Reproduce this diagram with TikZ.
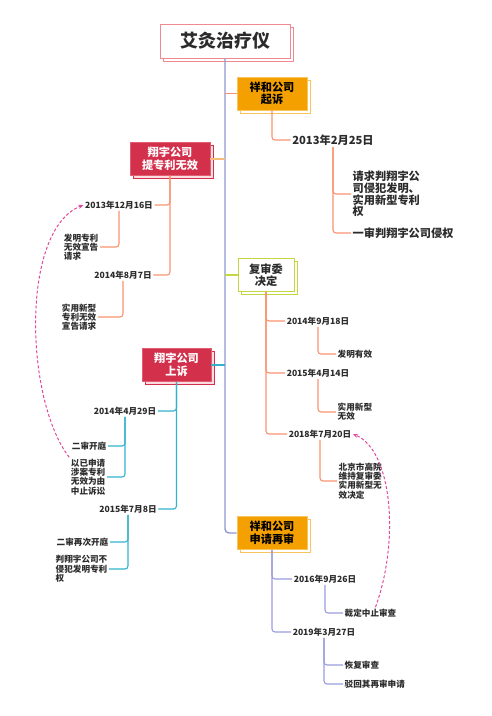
\documentclass[tikz,border=0pt]{standalone}
\usepackage{fontspec}
\setmainfont{Noto Sans CJK SC}
\usetikzlibrary{arrows.meta,shadows}
\definecolor{spinec}{HTML}{8F97D2}
\definecolor{titlered}{HTML}{F08A90}
\definecolor{boxorange}{HTML}{F4A000}
\definecolor{edgeorange}{HTML}{F8C45E}
\definecolor{boxred}{HTML}{D3304C}
\definecolor{edgered}{HTML}{E25E72}
\definecolor{shadepink}{HTML}{F9DDE1}
\definecolor{limec}{HTML}{C4D640}
\definecolor{salmonc}{HTML}{F9936F}
\definecolor{peachc}{HTML}{F7BB7A}
\definecolor{tealc}{HTML}{32B2CC}
\definecolor{purplec}{HTML}{9B9CDC}
\definecolor{magentac}{HTML}{E0489E}
\definecolor{textgray}{HTML}{2B2B2B}
\tikzset{
  headbox/.style={rectangle, align=center, font=\fontsize{11.2}{12.6}\selectfont\bfseries, inner xsep=4pt, minimum height=33pt, line width=0.8pt},
  titlebox/.style={headbox, draw=titlered, fill=white, text=textgray, font=\fontsize{18}{20}\selectfont\bfseries, minimum width=130pt, minimum height=34pt, copy shadow={shadow xshift=3pt, shadow yshift=-3pt, draw=titlered, fill=white}},
  orangebox/.style={headbox, fill=boxorange, draw=edgeorange, text=black, copy shadow={shadow xshift=3pt, shadow yshift=-3pt, draw=edgeorange, fill=white}},
  redbox/.style={headbox, fill=boxred, draw=edgered, text=white, copy shadow={shadow xshift=3pt, shadow yshift=-3pt, draw=boxred, fill=shadepink}},
  greenbox/.style={headbox, fill=white, draw=limec, line width=1pt, text=textgray, copy shadow={shadow xshift=3pt, shadow yshift=-3pt, draw=limec, fill=white}},
  datetext/.style={font=\fontsize{8.6}{9.3}\selectfont\bfseries, text=textgray, inner sep=1.5pt},
  bigdate/.style={datetext, font=\fontsize{11.2}{12}\selectfont\bfseries},
  leaftext/.style={font=\fontsize{8.6}{9.3}\selectfont\bfseries, text=textgray, align=left, inner sep=1.5pt},
  bigleaf/.style={leaftext, font=\fontsize{11.2}{11.6}\selectfont\bfseries},
  spine/.style={draw=spinec, line width=1.4pt, rounded corners=4pt},
  link/.style={line width=1.1pt, rounded corners=3pt},
  jumparrow/.style={draw=magentac, line width=1pt, dash pattern=on 3pt off 2pt, -{Stealth[length=5pt,width=4pt]}}
}
\begin{document}
\begin{tikzpicture}[x=1pt,y=-1pt]
  \useasboundingbox (0,0) rectangle (491,716);
  \node[titlebox] (title) at (225,41) {艾灸治疗仪};
  \node[orangebox, minimum width=70pt] (sue) at (272,93.5) {祥和公司\\起诉};
  \node[redbox, minimum width=80pt] (invalid) at (170,159) {翔宇公司\\提专利无效};
  \node[greenbox, minimum width=56pt] (review) at (266,275) {复审委\\决定};
  \node[redbox, minimum width=69pt] (appeal) at (176.5,365) {翔宇公司\\上诉};
  \node[orangebox, minimum width=70pt] (retrial) at (272,533) {祥和公司\\申请再审};
  % spine and first level
  \draw[spine] (title.south) |- (retrial.west);
  \draw[link, salmonc] (title.south |- sue.west) -- (sue.west);
  \draw[link, peachc] (invalid.east) -- (invalid.east -| title.south);
  \draw[link, limec] (title.south |- review.west) -- (review.west);
  \draw[link, tealc] (appeal.east) -- (appeal.east -| title.south);
  % 祥和公司起诉
  \node[bigdate] (sueA) at (333,140) {2013年2月25日};
  \node[bigleaf, anchor=west] (sueA1) at (351,194) {请求判翔宇公\\司侵犯发明、\\实用新型专利\\权};
  \node[bigleaf, anchor=west] (sueA2) at (351,233) {一审判翔宇公司侵权};
  \draw[link, salmonc] (sue.south) |- (sueA.west);
  \draw[link, salmonc] (sueA.south) |- (sueA1.west);
  \draw[link, salmonc] (sueA.south) |- (sueA2.west);
  % 翔宇公司提专利无效
  \node[datetext] (invA) at (119,205) {2013年12月16日};
  \node[leaftext, anchor=east] (invA1) at (100,247) {发明专利\\无效宣告\\请求};
  \node[datetext] (invB) at (123,275) {2014年8月7日};
  \node[leaftext, anchor=east] (invB1) at (98,317) {实用新型\\专利无效\\宣告请求};
  \draw[link, salmonc] (invalid.south) |- (invA.east);
  \draw[link, salmonc] (invalid.south) |- (invB.east);
  \draw[link, salmonc] (invA.south) |- (invA1.east);
  \draw[link, salmonc] (invB.south) |- (invB1.east);
  % 复审委决定
  \node[datetext] (revA) at (318,321) {2014年9月18日};
  \node[leaftext, anchor=west] (revA1) at (336,354) {发明有效};
  \node[datetext] (revB) at (318,373) {2015年4月14日};
  \node[leaftext, anchor=west] (revB1) at (336,412) {实用新型\\无效};
  \node[datetext] (revC) at (320,434) {2018年7月20日};
  \node[leaftext, anchor=west] (revC1) at (337,481) {北京市高院\\维持复审委\\实用新型无\\效决定};
  \draw[link, salmonc] (review.south) |- (revA.west);
  \draw[link, salmonc] (review.south) |- (revB.west);
  \draw[link, salmonc] (review.south) |- (revC.west);
  \draw[link, salmonc] (revA.south) |- (revA1.west);
  \draw[link, salmonc] (revB.south) |- (revB1.west);
  \draw[link, salmonc] (revC.south) |- (revC1.west);
  % 翔宇公司上诉
  \node[datetext] (appA) at (125,411) {2014年4月29日};
  \node[leaftext, anchor=east] (appA1) at (108,446) {二审开庭};
  \node[leaftext, anchor=east] (appA2) at (107,477) {以已申请\\涉案专利\\无效为由\\中止诉讼};
  \node[datetext] (appB) at (128,509) {2015年7月8日};
  \node[leaftext, anchor=east] (appB1) at (110,542) {二审再次开庭};
  \node[leaftext, anchor=east] (appB2) at (109,569) {判翔宇公司不\\侵犯发明专利\\权};
  \draw[link, tealc] (appeal.south) |- (appA.east);
  \draw[link, tealc] (appeal.south) |- (appB.east);
  \draw[link, tealc] (appA.south) |- (appA1.east);
  \draw[link, tealc] (appA.south) |- (appA2.east);
  \draw[link, tealc] (appB.south) |- (appB1.east);
  \draw[link, tealc] (appB.south) |- (appB2.east);
  % 祥和公司申请再审
  \node[datetext] (retA) at (325,579) {2016年9月26日};
  \node[leaftext, anchor=west] (retA1) at (343,613) {裁定中止审查};
  \node[datetext] (retB) at (324,632) {2019年3月27日};
  \node[leaftext, anchor=west] (retB1) at (343,665) {恢复审查};
  \node[leaftext, anchor=west] (retB2) at (343,684) {驳回其再审申请};
  \draw[link, purplec] (retrial.south) |- (retA.west);
  \draw[link, purplec] (retrial.south) |- (retB.west);
  \draw[link, purplec] (retA.south) |- (retA1.west);
  \draw[link, purplec] (retB.south) |- (retB1.west);
  \draw[link, purplec] (retB.south) |- (retB2.west);
  % dashed jumps
  \draw[jumparrow] (appA2.north west) .. controls (25,400) and (20,230) .. (invA.west);
  \draw[jumparrow] ([xshift=5pt]retA1.north) .. controls (400,540) and (392,450) .. (revC.east);
\end{tikzpicture}
\end{document}
